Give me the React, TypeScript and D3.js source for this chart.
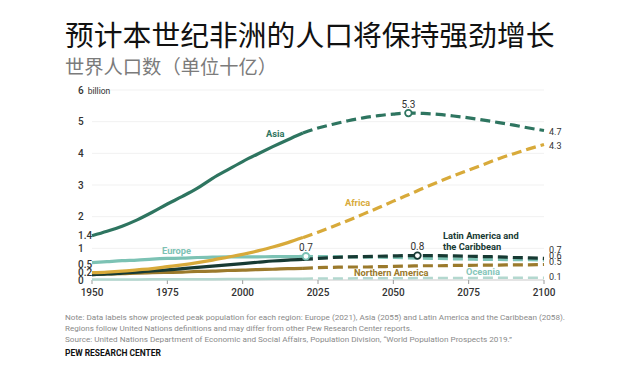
import * as d3 from 'd3';

const years = d3.range(1950, 2101, 5);
// split point between estimates (solid) and projections (dashed)
const splitYear = 2020;

const asia = [1.40, 1.54, 1.70, 1.90, 2.14, 2.40, 2.64, 2.90, 3.21, 3.48, 3.74, 3.98, 4.21, 4.43, 4.64, 4.80, 4.92, 5.03, 5.12, 5.19, 5.24, 5.27, 5.26, 5.23, 5.18, 5.12, 5.05, 4.97, 4.89, 4.80, 4.72];
const africa = [0.23, 0.25, 0.28, 0.32, 0.36, 0.42, 0.48, 0.55, 0.63, 0.72, 0.81, 0.92, 1.04, 1.18, 1.34, 1.51, 1.69, 1.88, 2.08, 2.28, 2.49, 2.69, 2.90, 3.10, 3.29, 3.47, 3.65, 3.83, 3.99, 4.14, 4.28];
const europe = [0.55, 0.58, 0.61, 0.63, 0.66, 0.68, 0.69, 0.71, 0.72, 0.73, 0.73, 0.73, 0.74, 0.74, 0.75, 0.74, 0.74, 0.73, 0.72, 0.72, 0.71, 0.70, 0.69, 0.68, 0.67, 0.66, 0.65, 0.65, 0.64, 0.64, 0.63];
const latam = [0.17, 0.19, 0.22, 0.25, 0.29, 0.32, 0.36, 0.40, 0.44, 0.48, 0.52, 0.56, 0.60, 0.63, 0.65, 0.68, 0.71, 0.73, 0.74, 0.75, 0.76, 0.77, 0.77, 0.77, 0.76, 0.75, 0.74, 0.73, 0.71, 0.70, 0.68];
const namerica = [0.17, 0.19, 0.20, 0.22, 0.23, 0.24, 0.25, 0.27, 0.28, 0.30, 0.31, 0.33, 0.34, 0.36, 0.37, 0.39, 0.40, 0.41, 0.41, 0.42, 0.43, 0.44, 0.45, 0.45, 0.46, 0.46, 0.47, 0.47, 0.48, 0.48, 0.49];
const oceania = [0.013, 0.014, 0.016, 0.018, 0.020, 0.021, 0.023, 0.025, 0.027, 0.029, 0.031, 0.034, 0.037, 0.040, 0.043, 0.045, 0.048, 0.051, 0.053, 0.055, 0.057, 0.059, 0.061, 0.063, 0.065, 0.066, 0.068, 0.070, 0.071, 0.073, 0.075];

const seriesNames = ['Oceania', 'Northern America', 'Europe', 'Latin America and the Caribbean', 'Africa', 'Asia'];
const seriesValues = [oceania, namerica, europe, latam, africa, asia];
const seriesColors = ['#b3d8cf', '#9b7a2c', '#7cc2b4', '#173a33', '#d8aa3a', '#2e7560'];

const peakNames = ['Europe', 'Asia', 'Latin America and the Caribbean'];
const peakYears = [2021, 2055, 2058];
const peakLabels = ['0.7', '5.3', '0.8'];

const xTicks = [1950, 1975, 2000, 2025, 2050, 2075, 2100];
const yTicks = [0, 0.2, 0.5, 1, 1.4, 2, 3, 4, 5, 6];
const yTickLabels = ['0', '0.2', '0.5', '1', '1.4', '2', '3', '4', '5', '6'];
const gridValues = [1, 2, 3, 4, 5, 6];

const endLabels = ['0.1', '0.5', '0.6', '0.7', '4.3', '4.7'];

const title = '预计本世纪非洲的人口将保持强劲增长';
const subtitle = '世界人口数（单位十亿）';
const notes = [
  'Note: Data labels show projected peak population for each region: Europe (2021), Asia (2055) and Latin America and the Caribbean (2058).',
  'Regions follow United Nations definitions and may differ from other Pew Research Center reports.',
  'Source: United Nations Department of Economic and Social Affairs, Population Division, \u201cWorld Population Prospects 2019.\u201d',
];

const W = 640;
const H = 366;
const font = 'Roboto, "Liberation Sans", Arial, sans-serif';
const cjk = '"Noto Sans CJK SC", "Noto Sans", sans-serif';

export default function App() {
  const x = d3.scaleLinear().domain([1950, 2100]).range([92, 544]);
  const y = d3.scaleLinear().domain([0, 6]).range([280, 90]);

  const line = d3.line<[number, number]>()
    .x(d => x(d[0]))
    .y(d => y(d[1]))
    .curve(d3.curveMonotoneX);

  const valueAt = (vals: number[], yr: number) => {
    const i = d3.bisectLeft(years, yr);
    if (years[i] === yr) return vals[i];
    const t = (yr - years[i - 1]) / (years[i] - years[i - 1]);
    return vals[i - 1] + t * (vals[i] - vals[i - 1]);
  };

  const pts = (vals: number[]) => years.map((yr, i) => [yr, vals[i]] as [number, number]);

  // the right-hand end values are stacked tightly, nudge them apart a little
  const endDy = [-0.6, -3, -4.5, -8.5, 1, 1];

  return (
    <div style={{ position: 'absolute', left: 0, top: 0 }}>
      <svg width={W} height={H} style={{ display: 'block', background: '#fff' }}>
        <text x={65} y={46} fontFamily={cjk} fontSize={28.8} fill="#111">{title}</text>
        <text x={65} y={74} fontFamily={cjk} fontSize={19.3} fill="#7b7b7b">{subtitle}</text>

        {gridValues.map(v => (
          <line key={v} x1={x(1950)} x2={x(2100)} y1={y(v)} y2={y(v)} stroke="#f1f1f1" strokeWidth={1} />
        ))}

        {yTicks.map((v, i) => (
          <text key={v} x={78} y={y(v) + (v === 0 ? 0.8 : v === 0.2 ? -0.8 : 0)} dy="0.35em" fontFamily={font} fontSize={10} fontWeight={500} fill="#333">
            {yTickLabels[i]}
            {v === 6 && <tspan dx={4} fontSize={8.5} fontWeight={400}>billion</tspan>}
          </text>
        ))}

        <line x1={x(1950)} x2={x(2100)} y1={y(0)} y2={y(0)} stroke="#c9c9c9" strokeWidth={1} />
        {xTicks.map(t => (
          <g key={t}>
            <line x1={x(t)} x2={x(t)} y1={y(0)} y2={y(0) + 4} stroke="#999" strokeWidth={1} />
            <text x={x(t)} y={y(0) + 12} dy="0.35em" textAnchor="middle" fontFamily={font} fontSize={10} fontWeight={500} fill="#333">{t}</text>
          </g>
        ))}

        {seriesValues.map((vals, i) => {
          const all = pts(vals);
          const solid = all.filter(d => d[0] <= splitYear);
          const dashed = all.filter(d => d[0] >= splitYear);
          const w = seriesNames[i] === 'Oceania' ? 2.5 : 3.2;
          return (
            <g key={seriesNames[i]}>
              <path d={line(solid) || ''} fill="none" stroke={seriesColors[i]} strokeWidth={w} />
              <path d={line(dashed) || ''} fill="none" stroke={seriesColors[i]} strokeWidth={w} strokeDasharray="10,5" />
            </g>
          );
        })}

        {peakNames.map((name, i) => {
          const si = seriesNames.indexOf(name);
          const v = valueAt(seriesValues[si], peakYears[i]);
          return (
            <g key={name}>
              <circle cx={x(peakYears[i])} cy={y(v)} r={3.3} fill="#fff" stroke={seriesColors[si]} strokeWidth={1.8} />
              <text x={x(peakYears[i])} y={y(v) - 5.5} textAnchor="middle" fontFamily={font} fontSize={10} fill="#333">{peakLabels[i]}</text>
            </g>
          );
        })}

        {seriesValues.map((vals, i) => (
          <text key={i} x={x(2100) + 5} y={y(vals[vals.length - 1]) + endDy[i]} dy="0.35em" fontFamily={font} fontSize={9} fill="#333">
            {endLabels[i]}
          </text>
        ))}

        <g fontFamily={font} fontWeight="bold" fontSize={9.3}>
          <text x={266} y={134} dy="0.35em" fill={seriesColors[5]}>Asia</text>
          <text x={345} y={203} dy="0.35em" fill={seriesColors[4]}>Africa</text>
          <text x={162} y={250.5} dy="0.35em" fill={seriesColors[2]}>Europe</text>
          <text x={443} y={236} dy="0.35em" fill={seriesColors[3]}>Latin America and</text>
          <text x={443} y={247} dy="0.35em" fill={seriesColors[3]}>the Caribbean</text>
          <text x={354} y={273} dy="0.35em" fill={seriesColors[1]}>Northern America</text>
          <text x={466} y={272} dy="0.35em" fill="#86c6ba">Oceania</text>
        </g>

        <g fontFamily={font} fontSize={8} fill="#8a8a8a">
          <text x={65} y={320} textLength={500} lengthAdjust="spacingAndGlyphs">{notes[0]}</text>
          <text x={65} y={331} textLength={347} lengthAdjust="spacingAndGlyphs">{notes[1]}</text>
          <text x={65} y={342} textLength={447} lengthAdjust="spacingAndGlyphs">{notes[2]}</text>
        </g>
        <text x={65} y={356} fontFamily={font} fontSize={8.5} fontWeight="bold" fill="#111" textLength={96} lengthAdjust="spacingAndGlyphs">PEW RESEARCH CENTER</text>
      </svg>
    </div>
  );
}
